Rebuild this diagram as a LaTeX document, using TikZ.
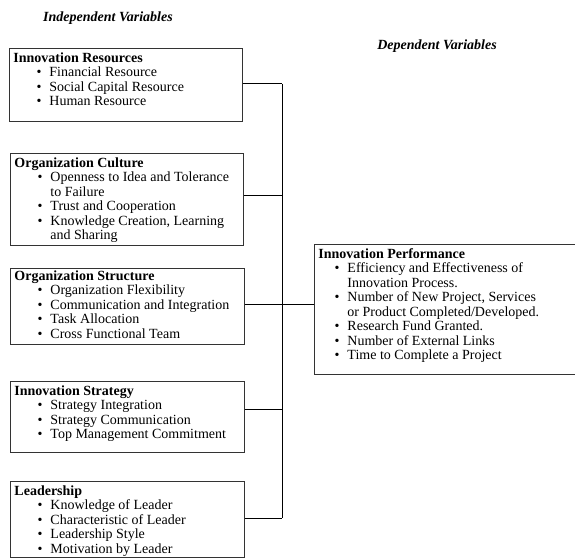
\documentclass[tikz,border=0pt]{standalone}
\usepackage{fontspec}
\setmainfont{Liberation Serif}
\usepackage{tikz}

\newenvironment{vlist}[1][36pt]{%
  \begin{list}{\textbullet}{\leftmargin=#1 \labelwidth=12pt \labelsep=8pt
    \itemsep=0pt \topsep=0pt \parsep=0pt \partopsep=0pt}\raggedright}{\end{list}}

\begin{document}
\begin{tikzpicture}[x=1pt,y=-1pt,
  varbox/.style={rectangle,draw=black!80,line width=0.9pt,anchor=north west,
    inner sep=4pt,align=left,font=\fontsize{14}{14.5}\selectfont},
  heading/.style={font=\fontsize{14}{15}\selectfont\bfseries\itshape},
  link/.style={line width=1pt,black}]

  \clip (0,0) rectangle (575,558);

  \node[heading] (indep) at (108,18) {Independent Variables};
  \node[heading] (dep) at (437,46) {Dependent Variables};

  % independent variables
  \node[varbox,minimum width=233pt,minimum height=73pt] (res) at (9,48)
    {\parbox[t][65pt][t]{225pt}{\raggedright\textbf{Innovation Resources}
      \begin{vlist}
        \item Financial Resource
        \item Social Capital Resource
        \item Human Resource
      \end{vlist}}};

  \node[varbox,minimum width=233pt,minimum height=92pt] (cult) at (10,153)
    {\parbox[t][84pt][t]{225pt}{\raggedright\textbf{Organization Culture}
      \begin{vlist}
        \item Openness to Idea and Tolerance\\to Failure
        \item Trust and Cooperation
        \item Knowledge Creation, Learning\\and Sharing
      \end{vlist}}};

  \node[varbox,minimum width=234pt,minimum height=76pt,inner ysep=2pt] (struct) at (10,268)
    {\parbox[t][72pt][t]{226pt}{\raggedright\textbf{Organization Structure}
      \begin{vlist}
        \item Organization Flexibility
        \item Communication and Integration
        \item Task Allocation
        \item Cross Functional Team
      \end{vlist}}};

  \node[varbox,minimum width=234pt,minimum height=71pt] (strat) at (10,381)
    {\parbox[t][63pt][t]{226pt}{\raggedright\textbf{Innovation Strategy}
      \begin{vlist}
        \item Strategy Integration
        \item Strategy Communication
        \item Top Management Commitment
      \end{vlist}}};

  \node[varbox,minimum width=234pt,minimum height=76pt] (lead) at (10,481)
    {\parbox[t][68pt][t]{226pt}{\raggedright\textbf{Leadership}
      \begin{vlist}
        \item Knowledge of Leader
        \item Characteristic of Leader
        \item Leadership Style
        \item Motivation by Leader
      \end{vlist}}};

  % dependent variable
  \node[varbox,minimum width=270pt,minimum height=130pt] (perf) at (314,244)
    {\parbox[t][122pt][t]{262pt}{\raggedright\textbf{Innovation Performance}
      \begin{vlist}[29pt]
        \item Efficiency and Effectiveness of\\Innovation Process.
        \item Number of New Project, Services\\or Product Completed/Developed.
        \item Research Fund Granted.
        \item Number of External Links
        \item Time to Complete a Project
      \end{vlist}}};

  \coordinate (bus) at (282,0);

  \draw[link] ([yshift=1pt]res.east) -- ([yshift=1pt]res.east -| bus);
  \draw[link] ([yshift=4pt]cult.east) -- ([yshift=4pt]cult.east -| bus);
  \draw[link] ([yshift=2pt]struct.east) -- ([yshift=2pt]struct.east -| perf.west);
  \draw[link] ([yshift=7pt]strat.east) -- ([yshift=7pt]strat.east -| bus);
  \draw[link] ([yshift=1pt]lead.east) -- ([yshift=1pt]lead.east -| bus);
  \draw[link] ([yshift=1pt]res.east -| bus) -- ([yshift=1pt]lead.east -| bus);
\end{tikzpicture}
\end{document}
